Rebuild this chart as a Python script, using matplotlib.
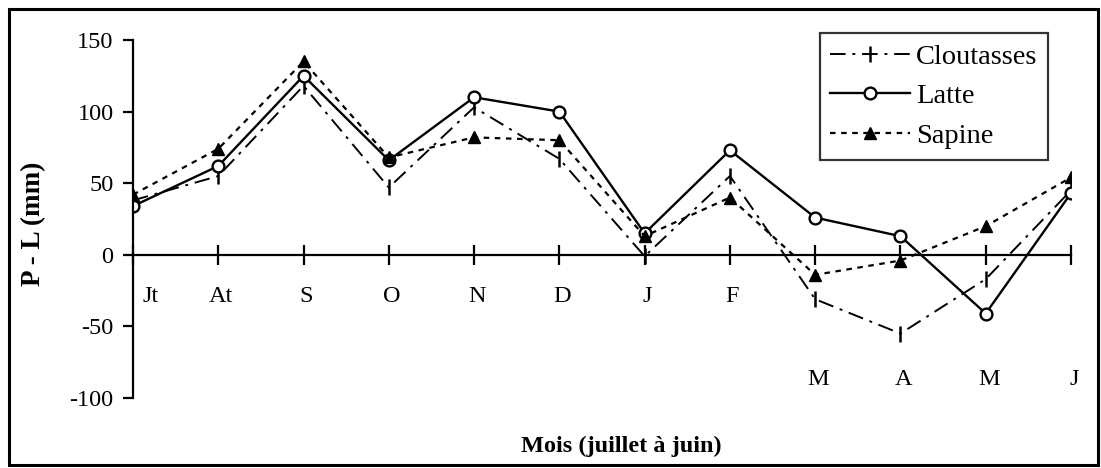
import matplotlib.pyplot as plt
from matplotlib.patches import Rectangle

# Monthly P - L (mm), July to June
months = ["Jt", "At", "S", "O", "N", "D", "J", "F", "M", "A", "M", "J"]
cloutasses = [38, 55, 118, 47, 103, 67, -1, 55, -31, -55, -17, 45]
latte = [34, 62, 125, 66, 110, 100, 15, 73, 26, 13, -41, 43]
sapine = [42, 74, 135, 68, 82, 80, 13, 40, -14, -4, 20, 54]

plt.rcParams['font.family'] = ['Liberation Serif', 'DejaVu Serif']

fig = plt.figure(figsize=(11.01, 4.68), dpi=100)
ax = fig.add_axes([133 / 1101, 70 / 468, (1071 - 133) / 1101, (398 - 40) / 468])

x = list(range(len(months)))

ax.plot(x, cloutasses, color="black", lw=1.4, dashes=[8, 3.5, 1.5, 3.5],
        marker="|", markersize=11, markeredgewidth=1.8, label="Cloutasses")
ax.plot(x, latte, color="black", lw=1.7, marker="o", markersize=8.5,
        markerfacecolor="white", markeredgewidth=1.7, label="Latte")
ax.plot(x, sapine, color="black", lw=1.6, dashes=[2.5, 2.5],
        marker="^", markersize=8.5, markerfacecolor="black", label="Sapine")

ax.set_xlim(0, 11)
ax.set_ylim(-100, 150)
ax.set_yticks([-100, -50, 0, 50, 100, 150])
ax.set_yticklabels(["-100", "-50", "0", "50", "100", "150"])
ax.tick_params(axis="y", direction="out", length=7, width=1.6, labelsize=17.5, pad=7)

ax.spines["top"].set_visible(False)
ax.spines["right"].set_visible(False)
ax.spines["bottom"].set_position(("data", 0))
ax.spines["bottom"].set_linewidth(1.6)
ax.spines["left"].set_linewidth(1.6)

ax.set_xticks(x)
ax.set_xticklabels([])
ax.tick_params(axis="x", direction="inout", length=15, width=1.6)

# month labels: first months just under the axis, last ones at the bottom
for i, m in enumerate(months):
    if i < 8:
        ax.text(i + (0.21 if i == 0 else 0.03), -22, m, ha="center", va="top", fontsize=17.5)
    else:
        ax.text(i + 0.04, -80, m, ha="center", va="top", fontsize=17.5)

fig.text(34 / 1101, 1 - 224 / 468, "P - L (mm)", rotation=90, ha="center",
         va="center", fontsize=19.5, fontweight="bold")
fig.text(621 / 1101, 1 - 446 / 468, "Mois (juillet à juin)", ha="center",
         va="center", fontsize=17.5, fontweight="bold")

leg = ax.legend(loc="upper right", bbox_to_anchor=(1048 / 1101, 1 - 33 / 468),
                bbox_transform=fig.transFigure, fontsize=20.5, frameon=True,
                fancybox=False, handlelength=2.8, borderpad=0.38,
                labelspacing=0.48, handletextpad=0.2, borderaxespad=0)
leg.get_frame().set_edgecolor("black")
leg.get_frame().set_linewidth(1.6)

fig.patches.append(Rectangle((9 / 1101, 3 / 468), 1089 / 1101, 456 / 468,
                             transform=fig.transFigure, fill=False,
                             edgecolor="black", lw=2.2))

fig.savefig("out.png", dpi=100)
